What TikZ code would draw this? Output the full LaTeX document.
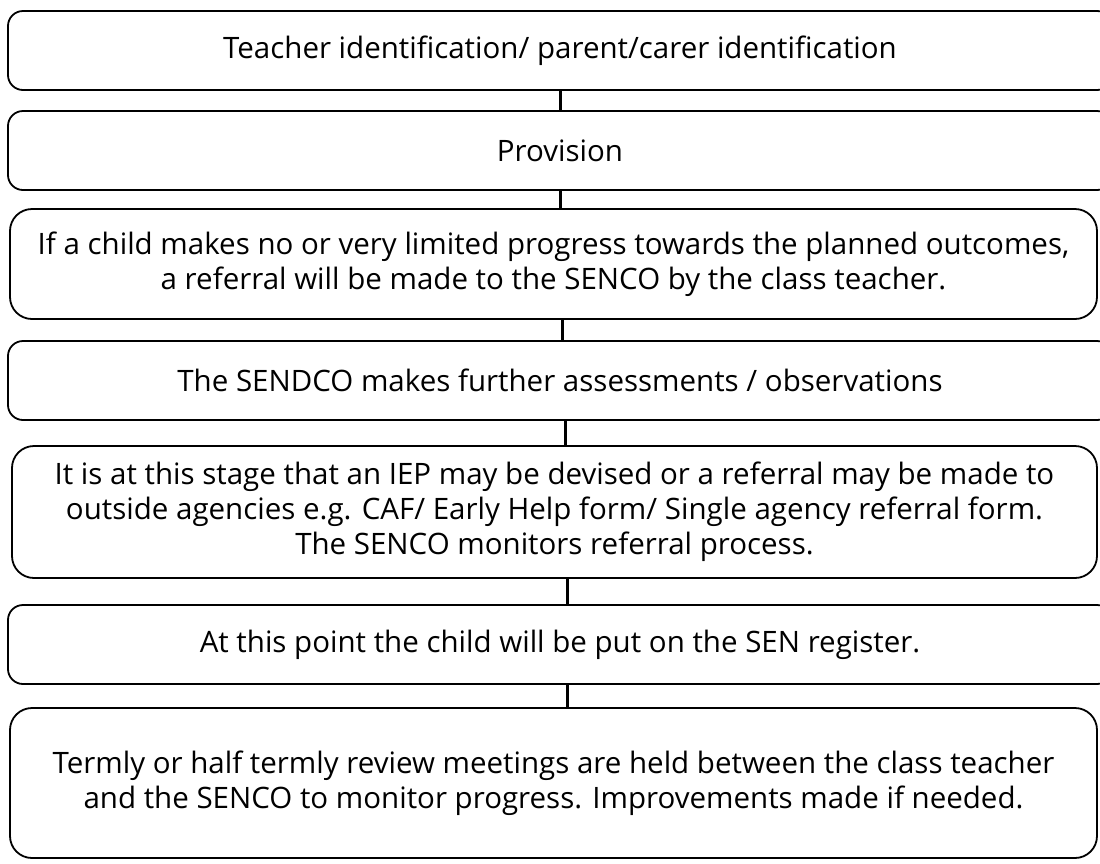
\documentclass[tikz,border=0pt]{standalone}
\usepackage{fontspec}
\setmainfont{Open Sans}

\begin{document}
\begin{tikzpicture}
  [x=1pt,y=-1pt,
   every node/.style={draw,line width=1.8pt,align=center,inner sep=0pt,
     font=\fontsize{29.5}{35}\selectfont},
   stage/.style={rounded corners=15pt,minimum width=1104pt,minimum height=79pt},
   bigstage/.style={rounded corners=22pt,minimum width=1087pt}]
  \useasboundingbox (0,0) rectangle (1100,863);
  \node[stage] (a) at (560,50.5) {Teacher identification/ parent/carer identification};
  \node[stage] (b) at (560,150.5) {Provision};
  \node[bigstage,minimum height=110pt] (c) at (553.5,264)
    {If a child makes no or very limited progress towards the planned outcomes,\\
     a referral will be made to the SENCO by the class teacher.};
  \node[stage] (d) at (560,380.5) {The SENDCO makes further assessments / observations};
  \node[bigstage,minimum height=132pt,minimum width=1085pt] (e) at (554.5,512)
    {It is at this stage that an IEP may be devised or a referral may be made to\\
     outside agencies e.g. CAF/ Early Help form/ Single agency referral form.\\
     The SENCO monitors referral process.};
  \node[stage] (f) at (560,644.5) {At this point the child will be put on the SEN register.};
  \node[bigstage,minimum height=150pt] (g) at (553.5,783)
    {Termly or half termly review meetings are held between the class teacher\\
     and the SENCO to monitor progress. Improvements made if needed.};
  \foreach \from/\to/\x in {a/b/560,b/c/560,c/d/562,d/e/565,e/f/567,f/g/567}
    \draw[line width=3pt] (\from.south -| \x,0) -- (\to.north -| \x,0);
\end{tikzpicture}
\end{document}
